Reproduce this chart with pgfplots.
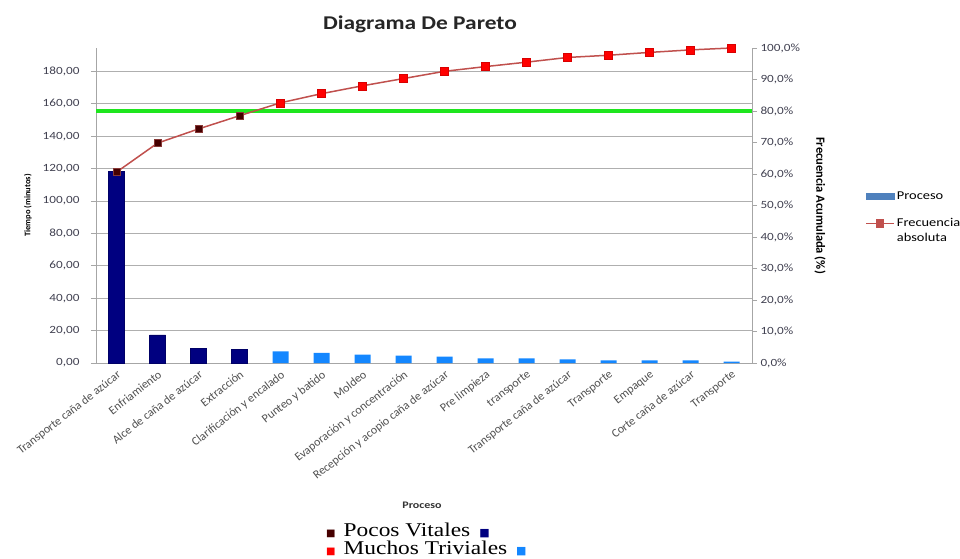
\documentclass[border=0pt]{standalone}
\usepackage{pgfplots}
\pgfplotsset{compat=1.18}
\usepackage{fontspec}
\setmainfont{Carlito}
\newfontfamily\wide[FakeStretch=1.2]{Carlito}
\newfontfamily\serifw[FakeStretch=1.2]{Liberation Serif}
\newfontfamily\dejavu{DejaVu Sans}
\definecolor{navybar}{RGB}{0,0,128}
\definecolor{lightbar}{RGB}{20,135,255}
\definecolor{linecol}{RGB}{192,80,77}
\definecolor{legblue}{RGB}{79,129,189}
\definecolor{darkmark}{RGB}{70,0,0}
\definecolor{greenl}{RGB}{30,230,30}
\definecolor{axgray}{RGB}{166,166,166}
\definecolor{gridgray}{RGB}{175,175,175}
\definecolor{ticktext}{RGB}{64,64,80}
\definecolor{labtext}{RGB}{80,80,80}

\pgfplotstableread{
x y
0 118.3
1 17.3
2 9.1
3 8.5
}\vitales
\pgfplotstableread{
x y
4 7.2
5 6.2
6 5.1
7 4.5
8 3.9
9 2.9
10 2.9
11 2.3
12 1.7
13 1.7
14 1.7
15 0.8
}\triviales
\pgfplotstableread{
x y
0 60.6
1 69.8
2 74.3
3 78.5
4 82.6
5 85.5
6 88.0
7 90.3
8 92.6
9 94.1
10 95.5
11 97.0
12 97.7
13 98.6
14 99.4
15 100.0
}\acum

\begin{document}
\begin{tikzpicture}[x=1pt,y=1pt]
\useasboundingbox (0,0) rectangle (960,558);
\pgfplotsset{
  common/.style={
    at={(96pt,195pt)}, anchor=south west, scale only axis,
    width=656pt, height=315pt, xmin=-0.5, xmax=15.5,
    axis line style={axgray, line width=0.8pt, -},
    tick style={axgray, line width=0.8pt},
    tick align=outside, major tick length=5pt,
    /pgf/number format/assume math mode=true,
    ticklabel style={font=\wide\fontsize{11}{13}\selectfont, text=ticktext},
  }
}
\begin{axis}[common,
  ymin=0, ymax=194.5,
  axis y line*=left, axis x line*=bottom,
  ytick pos=left, xtick pos=bottom,
  ytick={0,20,...,180},
  yticklabel style={xshift=-8pt, /pgf/number format/.cd, fixed, fixed zerofill, precision=2, use comma},
  ymajorgrids, grid style={gridgray, line width=0.8pt},
  xtick={0,...,15},
  xtick style={draw=none},
  xticklabels={Transporte caña de azúcar, Enfriamiento, Alce de caña de azúcar, Extracción, Clarificación y encalado, Punteo y batido, Moldeo, Evaporación y concentración, Recepción y acopio caña de azúcar, Pre limpieza, transporte, Transporte caña de azúcar, Transporte, Empaque, Corte caña de azúcar, Transporte},
  xticklabel style={font=\fontsize{12}{14}\selectfont, text=labtext, rotate=38, anchor=north east, inner sep=1pt},
  ylabel={Tiempo (minutos)},
  every axis y label/.style={at={(axis description cs:-0.104,0.5)}, rotate=90, anchor=center, font=\bfseries\fontsize{8.5}{10}\selectfont},
  xlabel={Proceso},
  every axis x label/.style={at={(axis description cs:0.497,-0.451)}, anchor=center, font=\wide\bfseries\fontsize{10}{12}\selectfont, text=black!80},
]
\addplot[ybar, bar width=16pt, bar shift=0pt, fill=navybar, draw=navybar!80!black, line width=0.4pt] table[x=x,y=y] {\vitales};
\addplot[ybar, bar width=16pt, bar shift=0pt, fill=lightbar, draw=none] table[x=x,y=y] {\triviales};
\end{axis}

\begin{axis}[common,
  ymin=0, ymax=100,
  axis y line*=right, axis x line=none,
  ytick pos=right, yticklabel pos=right,
  ytick={0,10,...,100},
  yticklabel={\pgfmathprintnumber[fixed, fixed zerofill, precision=1, use comma]{\tick}\%},
  ylabel={Frecuencia Acumulada (\%)},
  every axis y label/.style={at={(axis description cs:1.1037,0.5)}, rotate=-90, anchor=center, font=\bfseries\fontsize{12.5}{14}\selectfont},
  legend style={at={(axis description cs:1.168,0.558)}, anchor=north west, draw=none, fill=none,
    font=\wide\fontsize{12}{15}\selectfont, row sep=14pt, nodes={align=left}},
  legend cell align=left,
]
\addplot[greenl, line width=3.5pt, forget plot] coordinates {(-0.5,80) (15.5,80)};
\addplot[linecol, line width=1.5pt, forget plot] table[x=x,y=y] {\acum};
\addplot[only marks, mark=square*, mark size=3.5pt, mark options={fill=darkmark, draw=linecol!70!black, line width=0.6pt}, forget plot] table[x=x,y=y] {\acum} ;
\addplot[only marks, mark=square*, mark size=4pt, mark options={fill=red, draw=red!85!black, line width=0.5pt}, forget plot, restrict x to domain=3.5:16] table[x=x,y=y] {\acum};
\addlegendimage{legend image code/.code={\fill[legblue] (0pt,-3pt) rectangle (28pt,3pt);}}
\addlegendentry{Proceso}
\addlegendimage{linecol, line width=1.5pt, mark=square*, mark size=3.5pt, mark options={fill=linecol},
  legend image code/.code={\draw[mark repeat=2,mark phase=2] plot coordinates {(0pt,7.5pt) (14pt,7.5pt) (28pt,7.5pt)};}}
\addlegendentry{Frecuencia\\absoluta}
\end{axis}

\node[anchor=base, font=\wide\bfseries\fontsize{19.5}{22}\selectfont, text=black!85] at (420,528.7) {Diagrama De Pareto};
\node[anchor=base west, inner sep=0pt] at (326,22) {{\dejavu\fontsize{10}{12}\selectfont\textcolor{darkmark}{■}}\hspace{8pt}{\serifw\fontsize{19.5}{22}\selectfont Pocos Vitales}\hspace{9pt}{\dejavu\fontsize{11}{12}\selectfont\textcolor{navybar}{■}}};
\node[anchor=base west, inner sep=0pt] at (326,4) {{\dejavu\fontsize{10}{12}\selectfont\textcolor{red}{■}}\hspace{8pt}{\serifw\fontsize{19.5}{22}\selectfont Muchos Triviales}\hspace{9pt}{\dejavu\fontsize{11}{12}\selectfont\textcolor{lightbar}{■}}};
\end{tikzpicture}
\end{document}
